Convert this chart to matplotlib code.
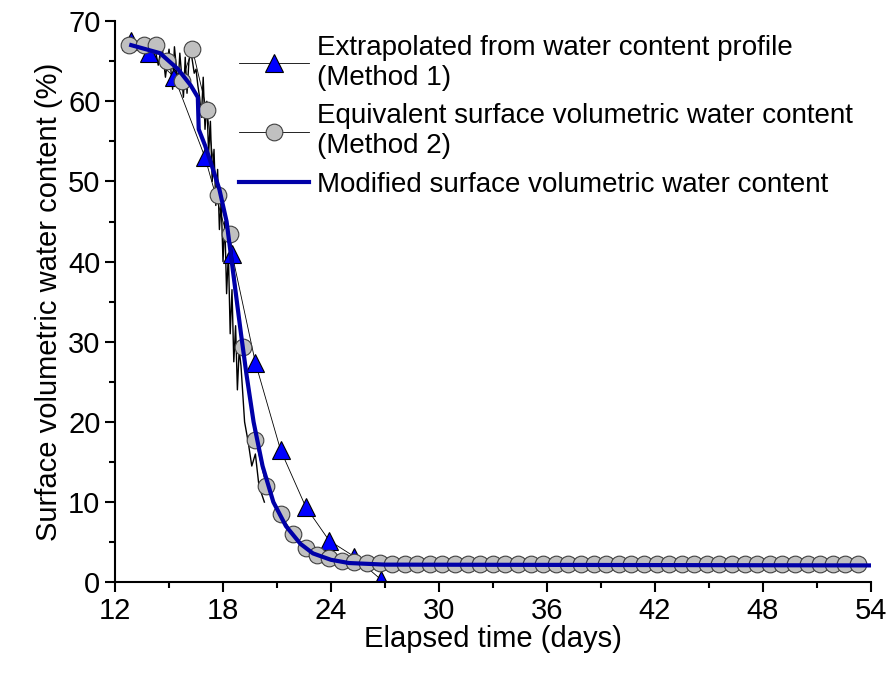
import numpy as np
import matplotlib.pyplot as plt

plt.rcParams['font.family'] = ['Liberation Sans', 'DejaVu Sans']

# Method 1: extrapolated from profile
m1_t = [12.9, 13.9, 15.3, 17.0, 18.5, 19.8, 21.2, 22.6, 23.9, 25.3, 26.8]
m1_w = [67.5, 66.0, 63.0, 53.0, 41.0, 27.4, 16.5, 9.4, 5.2, 3.2, 0.3]

# Method 2: equivalent surface water content (markers)
m2_t = [12.8, 13.6, 14.3, 14.9, 15.7, 16.3, 17.1, 17.7, 18.4, 19.1, 19.8, 20.4,
        21.2, 21.9, 22.6, 23.2, 23.9, 24.6, 25.3, 26.0, 26.7, 27.4, 28.1, 28.8,
        29.5, 30.2, 30.9, 31.6, 32.3, 33.0, 33.7, 34.4, 35.1, 35.8, 36.5, 37.2,
        37.9, 38.6, 39.3, 40.0, 40.7, 41.4, 42.1, 42.8, 43.5, 44.2, 44.9, 45.6,
        46.3, 47.0, 47.7, 48.4, 49.1, 49.8, 50.5, 51.2, 51.9, 52.6, 53.3]
m2_w = [67.0, 67.0, 67.0, 65.0, 62.5, 66.5, 58.9, 48.3, 43.4, 29.3, 17.8, 12.0,
        8.5, 6.0, 4.3, 3.4, 3.0, 2.7, 2.5, 2.4, 2.4, 2.3, 2.3, 2.3, 2.3, 2.3, 2.3,
        2.3, 2.3, 2.3, 2.3, 2.3, 2.3, 2.3, 2.3, 2.3, 2.3, 2.3, 2.3, 2.3, 2.3, 2.3,
        2.3, 2.3, 2.3, 2.3, 2.3, 2.3, 2.3, 2.3, 2.3, 2.3, 2.3, 2.3, 2.3, 2.3, 2.3,
        2.3, 2.3]

# raw noisy record (method 2)
raw_t = [12.8, 13.3, 13.8, 14.2, 14.4, 14.6, 14.8, 15.0, 15.2, 15.3, 15.5, 15.6,
         15.8, 15.9, 16.0, 16.1, 16.2, 16.3, 16.4, 16.5, 16.6, 16.7, 16.8, 16.9,
         17.0, 17.1, 17.2, 17.3, 17.4, 17.5, 17.6, 17.7, 17.8, 17.9, 18.0, 18.1,
         18.2, 18.3, 18.4, 18.5, 18.6, 18.7, 18.8, 18.9, 19.0, 19.2, 19.4, 19.6,
         19.8, 20.0, 20.3]
raw_w = [67.0, 67.0, 66.5, 66.8, 64.5, 67.2, 63.0, 66.5, 61.5, 66.8, 62.0, 66.0,
         60.5, 65.5, 61.0, 64.8, 66.5, 65.0, 63.5, 64.0, 62.0, 60.5, 58.0, 63.0,
         56.5, 60.0, 53.5, 57.5, 50.0, 54.0, 47.0, 51.5, 44.0, 47.5, 40.0, 45.0,
         36.0, 41.0, 31.0, 36.5, 27.5, 32.0, 24.0, 29.0, 27.0, 20.0, 17.5, 14.5,
         16.0, 12.0, 10.0]

# modified surface water content
mod_t = [12.9, 14.5, 15.5, 16.2, 16.6, 16.65, 17.0, 17.3, 17.8, 18.2, 18.6,
         19.0, 19.3, 19.7, 20.2, 20.8, 21.5, 22.3, 23.0, 24.0, 25.0, 27.0, 54.0]
mod_w = [67.0, 66.0, 64.0, 62.0, 60.5, 56.5, 54.5, 52.5, 49.0, 45.0, 38.0,
         31.0, 26.0, 20.0, 14.5, 10.0, 7.0, 4.8, 3.6, 2.8, 2.4, 2.2, 2.1]

fig = plt.figure(figsize=(8.92, 6.81), dpi=100)
ax = fig.add_axes([0.129, 0.145, 0.847, 0.824])

ax.plot(raw_t, raw_w, color='black', lw=1.0)
ax.plot(m1_t, m1_w, color='black', lw=0.6, marker='^', ms=13,
        mfc='#0000ff', mec='black', mew=0.8,
        label='Extrapolated from water content profile\n(Method 1)')
ax.plot(m2_t, m2_w, color='black', lw=0.6, marker='o', ms=12,
        mfc='#c0c0c0', mec='#404040', mew=0.8,
        label='Equivalent surface volumetric water content\n(Method 2)')
ax.plot(mod_t, mod_w, color='#0000a8', lw=3, label='Modified surface volumetric water content')

ax.set_xlim(12, 54)
ax.set_ylim(0, 70)
ax.set_xticks(range(12, 55, 6))
ax.set_xticks(range(15, 54, 6), minor=True)
ax.set_yticks(range(0, 71, 10))
ax.set_yticks(range(5, 70, 10), minor=True)
ax.tick_params(which='major', direction='out', length=7, width=1.5, labelsize=21)
ax.tick_params(which='minor', direction='out', length=4, width=1.5)
ax.spines['top'].set_visible(False)
ax.spines['right'].set_visible(False)
for s in ('left', 'bottom'):
    ax.spines[s].set_linewidth(1.5)
ax.set_xlabel('Elapsed time (days)', fontsize=21, labelpad=0)
ax.set_ylabel('Surface volumetric water content (%)', fontsize=21, labelpad=4)

ax.legend(loc='upper right', frameon=False, fontsize=20, handlelength=2.5,
          handletextpad=0.3, borderaxespad=0.1, labelspacing=0.45,
          bbox_to_anchor=(0.995, 1.0))

fig.savefig('out.png', dpi=100)
